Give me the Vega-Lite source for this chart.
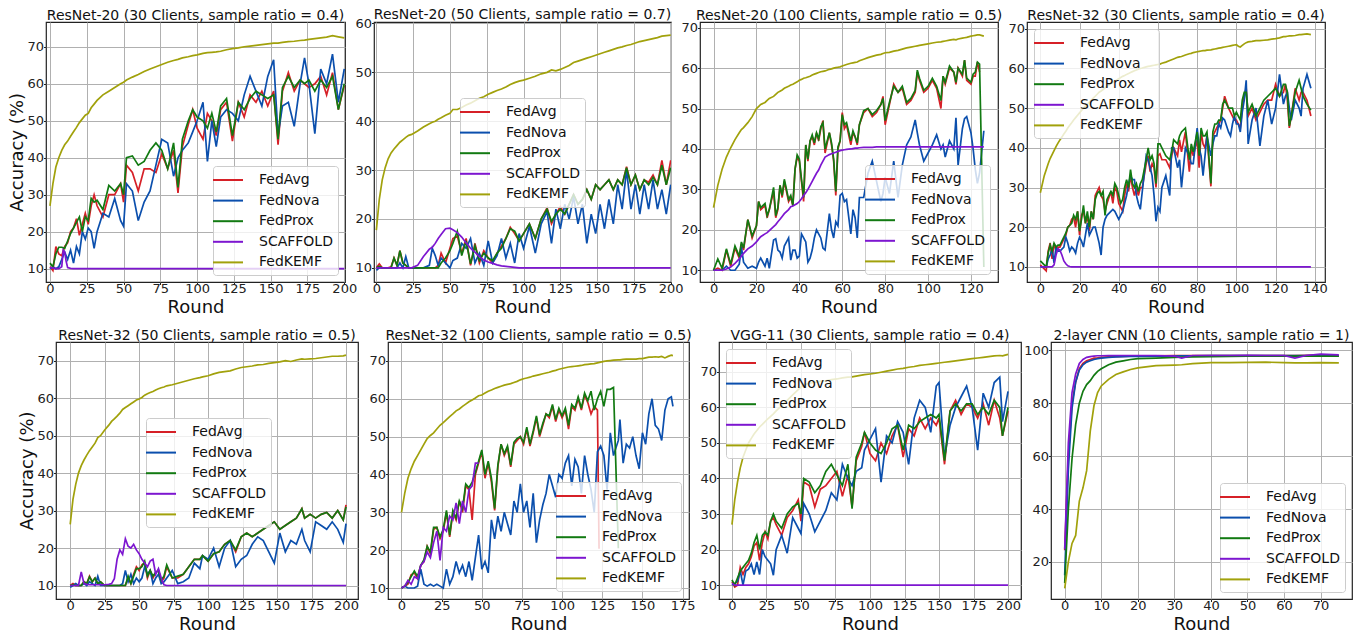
{
"$schema":"https://vega.github.io/schema/vega-lite/v6.json",
"background":"white",
"padding":{"left":8,"top":7,"right":2,"bottom":2},
"config":{
"font":"DejaVu Sans",
"view":{"stroke":"#222222","strokeWidth":1.2},
"mark":{"invalid":"filter"},
"axis":{"labelFontSize":13,"labelFont":"DejaVu Sans","titleFont":"DejaVu Sans","titleFontSize":18,"titleFontWeight":"normal","labelColor":"#222222","titleColor":"#111111","tickColor":"#222222","tickSize":2.5,"domain":false,"grid":true,"gridColor":"#b0b0b0","gridWidth":1,"labelFlush":false,"labelOverlap":false,"labelPadding":0,"titlePadding":0},
"axisX":{"labelPadding":-2,"titlePadding":3},
"axisY":{"titlePadding":0},
"title":{"fontSize":14,"fontWeight":"normal","color":"#111111","offset":-1,"font":"DejaVu Sans"},
"legend":{"labelFontSize":14,"labelColor":"#111111","labelFont":"DejaVu Sans","symbolStrokeWidth":2,"symbolSize":256,"padding":5,"rowPadding":4.6,"strokeColor":"#cccccc","fillColor":"rgba(255,255,255,0.8)","cornerRadius":3,"symbolOffset":1,"labelOffset":22}
},
"datasets":{
"p1":[
{"r":0,"a":10.5,"n":10,"p":11.5,"s":10.3,"k":27},
{"r":2,"a":9.5,"n":10.5,"p":10.5,"s":10.2,"k":33},
{"r":4,"a":16,"n":10,"p":14,"s":10,"k":37.5},
{"r":6,"a":14,"n":10.5,"p":15.8,"s":10,"k":40},
{"r":8,"a":13.5,"n":12.5,"p":15.8,"s":10.5,"k":42},
{"r":9,"s":15},
{"r":10,"a":16,"n":14.5,"p":15.5,"s":14.5,"k":43.5},
{"r":11,"s":12},
{"r":12,"a":17,"n":12.5,"p":17.5,"s":10.3,"k":44.5},
{"r":14,"a":20,"n":15,"p":19.5,"s":10.1,"k":45.8},
{"r":16,"a":21,"n":11.5,"p":21,"s":10,"k":47},
{"r":18,"a":23.5,"n":16,"p":22.5,"s":10,"k":48.2},
{"r":20,"a":19,"n":14,"p":24,"s":10,"k":49.5},
{"r":22,"a":22,"n":20,"p":20,"s":10,"k":50.5},
{"r":24,"a":25,"n":18,"p":24,"s":10,"k":51.5},
{"r":26,"a":22,"n":21,"p":23,"s":10,"k":52},
{"r":28,"a":27,"n":20,"p":29,"s":10,"k":53.5},
{"r":30,"a":30,"n":15.5,"p":28,"s":10,"k":54.5},
{"r":32,"a":27,"n":20,"p":28.5,"s":10,"k":55.5},
{"r":36,"a":24,"n":25,"p":26,"s":10,"k":57},
{"r":40,"a":30,"n":24,"p":32.5,"s":10,"k":58},
{"r":44,"a":30,"n":29,"p":31,"s":10,"k":59},
{"r":48,"a":33,"n":23,"p":33,"s":10,"k":60},
{"r":50,"a":28,"n":21.5,"p":30,"s":10,"k":60.4},
{"r":52,"a":38,"n":33,"p":40,"s":10,"k":61},
{"r":56,"a":36,"n":31,"p":40.5,"s":10,"k":61.8},
{"r":60,"a":31,"n":23,"p":38,"s":10,"k":62.5},
{"r":64,"a":37,"n":28,"p":39,"s":10,"k":63.3},
{"r":68,"a":37,"n":31,"p":42,"s":10,"k":64},
{"r":72,"a":36,"n":38,"p":44,"s":10,"k":64.6},
{"r":76,"a":41,"n":45,"p":42,"s":10,"k":65.2},
{"r":80,"a":37,"n":44,"p":37,"s":10,"k":65.8},
{"r":84,"a":42,"n":35,"p":44,"s":10,"k":66.3},
{"r":87,"a":30.5,"n":40,"p":32,"s":10,"k":66.6},
{"r":90,"a":43,"n":42,"p":45,"s":10,"k":67},
{"r":94,"a":49,"n":44,"p":50,"s":10,"k":67.3},
{"r":97,"a":53,"n":47,"p":53,"s":10,"k":67.6},
{"r":100,"a":48,"n":50,"p":51,"s":10,"k":67.8},
{"r":104,"a":45,"n":55,"p":50,"s":10,"k":68.2},
{"r":107,"a":52,"n":39,"p":48,"s":10,"k":68.4},
{"r":110,"a":50,"n":50,"p":52,"s":10,"k":68.5},
{"r":113,"a":46,"n":43,"p":47,"s":10,"k":68.6},
{"r":116,"a":53,"n":51,"p":54,"s":10,"k":68.8},
{"r":120,"a":55,"n":53,"p":56,"s":10,"k":69.2},
{"r":124,"a":44.5,"n":52,"p":46,"s":10,"k":69.5},
{"r":128,"a":55,"n":50,"p":55,"s":10,"k":69.7},
{"r":132,"a":51,"n":57,"p":53,"s":10,"k":70},
{"r":136,"a":57,"n":62,"p":56,"s":10,"k":70.2},
{"r":140,"a":55,"n":58,"p":58,"s":10,"k":70.4},
{"r":144,"a":58,"n":54,"p":57,"s":10,"k":70.6},
{"r":148,"a":54,"n":62,"p":56,"s":10,"k":70.8},
{"r":152,"a":58,"n":66.5,"p":57,"s":10,"k":71},
{"r":155,"a":43.5,"n":46,"p":45,"s":10,"k":71},
{"r":158,"a":58,"n":54,"p":59,"s":10,"k":71.2},
{"r":162,"a":63,"n":55,"p":62,"s":10,"k":71.4},
{"r":166,"a":58,"n":48.5,"p":59,"s":10,"k":71.5},
{"r":170,"a":61,"n":60,"p":61,"s":10,"k":71.7},
{"r":173,"a":60,"n":67,"p":60,"s":10,"k":71.8},
{"r":176,"a":59,"n":60,"p":61,"s":10,"k":72},
{"r":180,"a":60,"n":46.5,"p":58,"s":10,"k":72.2},
{"r":184,"a":62,"n":64,"p":61,"s":10,"k":72.4},
{"r":188,"a":57,"n":60,"p":59,"s":10,"k":72.6},
{"r":192,"a":63,"n":68,"p":62,"s":10,"k":73},
{"r":196,"a":53,"n":55,"p":53,"s":10,"k":72.7},
{"r":200,"a":59.5,"n":64,"p":60,"s":10,"k":72.4}
],
"p2":[
{"r":0,"a":10,"n":9.5,"p":10,"s":10,"k":17.7},
{"r":2,"a":10.8,"n":10,"p":10.3,"s":10,"k":24},
{"r":4,"a":10,"n":10,"p":10,"s":10,"k":28},
{"r":6,"a":10,"n":10,"p":10,"s":10,"k":30.5},
{"r":8,"a":10,"n":10,"p":10,"s":10,"k":32.3},
{"r":10,"a":10.2,"n":10,"p":10,"s":10,"k":33.5},
{"r":12,"a":12,"n":10,"p":12,"s":10,"k":34.3},
{"r":14,"a":10.5,"n":10,"p":10.5,"s":10,"k":35},
{"r":16,"a":13.5,"n":11,"p":13.5,"s":10,"k":35.7},
{"r":18,"a":11,"n":10,"p":11,"s":10,"k":36.2},
{"r":20,"a":10.5,"n":12.3,"p":10.5,"s":10,"k":36.7},
{"r":22,"a":10,"n":10,"p":10,"s":10,"k":37.1},
{"r":24,"a":10,"n":10,"p":10,"s":10,"k":37.3},
{"r":28,"a":10,"n":10,"p":10,"s":10.5,"k":38},
{"r":32,"a":10,"n":10,"p":10,"s":12.3,"k":38.8},
{"r":36,"a":10,"n":10.5,"p":10,"s":13.8,"k":39.5},
{"r":38,"a":10,"n":14,"p":10,"s":14.2,"k":39.8},
{"r":40,"a":10,"n":12.5,"p":10,"s":15,"k":40},
{"r":42,"a":10.5,"n":10.5,"p":10,"s":16,"k":40.4},
{"r":44,"a":13,"n":12,"p":11,"s":16.8,"k":40.7},
{"r":47,"a":11,"n":11,"p":12,"s":18,"k":41.2},
{"r":50,"a":14,"n":10,"p":13.5,"s":18.1,"k":41.6},
{"r":52,"a":16,"n":11.5,"p":15,"s":17.8,"k":42.4},
{"r":55,"a":16.5,"n":12,"p":17.5,"s":17.2,"k":42.4},
{"r":58,"a":13,"n":15,"p":12.5,"s":16.3,"k":42.8},
{"r":61,"a":16,"n":14,"p":15.5,"s":15.1,"k":43.3},
{"r":64,"a":10.5,"n":16,"p":10.8,"s":14,"k":43.7},
{"r":67,"a":15,"n":11,"p":14.5,"s":13.2,"k":44.2},
{"r":70,"a":11,"n":13,"p":11.5,"s":12.3,"k":44.7},
{"r":73,"a":13.5,"n":10.5,"p":13,"s":11.6,"k":45},
{"r":76,"a":12,"n":15.5,"p":12,"s":11.2,"k":45.5},
{"r":79,"a":11,"n":11,"p":11.5,"s":10.9,"k":45.9},
{"r":82,"a":13,"n":12.5,"p":13,"s":10.6,"k":46.3},
{"r":85,"a":14.5,"n":16,"p":14,"s":10.4,"k":46.6},
{"r":88,"a":16,"n":12,"p":16,"s":10.3,"k":47},
{"r":91,"a":18.3,"n":15,"p":18,"s":10.2,"k":47.5},
{"r":94,"a":17,"n":11,"p":17.5,"s":10.1,"k":47.9},
{"r":97,"a":15.5,"n":17,"p":15.5,"s":10,"k":48.2},
{"r":100,"a":17,"n":14,"p":17,"s":10,"k":48.4},
{"r":104,"a":19,"n":18.5,"p":19,"s":10,"k":48.8},
{"r":108,"a":16,"n":13,"p":16,"s":10,"k":49.2},
{"r":112,"a":20,"n":19,"p":20,"s":10,"k":49.7},
{"r":116,"a":22.3,"n":21.5,"p":22,"s":10,"k":50},
{"r":119,"a":19,"n":15,"p":19.5,"s":10,"k":50.5},
{"r":122,"a":21,"n":22,"p":21,"s":10,"k":50.3},
{"r":125,"a":22.5,"n":18,"p":22,"s":10,"k":50.6},
{"r":128,"a":21,"n":23,"p":21,"s":10,"k":51},
{"r":131,"a":23,"n":20,"p":23,"s":10,"k":51.4},
{"r":134,"a":25,"n":24.5,"p":25,"s":10,"k":52},
{"r":137,"a":23,"n":19,"p":23,"s":10,"k":52.3},
{"r":140,"a":24,"n":23,"p":24,"s":10,"k":52.6},
{"r":143,"a":26,"n":15,"p":26,"s":10,"k":52.9},
{"r":146,"a":24,"n":21,"p":24,"s":10,"k":53.2},
{"r":149,"a":27,"n":17,"p":27,"s":10,"k":53.5},
{"r":152,"a":26,"n":23,"p":26,"s":10,"k":53.8},
{"r":155,"a":27,"n":18,"p":27,"s":10,"k":54.1},
{"r":158,"a":28,"n":24,"p":28,"s":10,"k":54.4},
{"r":161,"a":26,"n":19,"p":26,"s":10,"k":54.7},
{"r":164,"a":28,"n":27,"p":28,"s":10,"k":55},
{"r":167,"a":27,"n":22,"p":27,"s":10,"k":55.2},
{"r":170,"a":30.7,"n":30,"p":30.5,"s":10,"k":55.5},
{"r":173,"a":27,"n":22,"p":27,"s":10,"k":55.7},
{"r":176,"a":29,"n":27,"p":29,"s":10,"k":56},
{"r":179,"a":26,"n":21,"p":26,"s":10,"k":56.3},
{"r":182,"a":28,"n":27,"p":28,"s":10,"k":56.5},
{"r":185,"a":27.5,"n":22,"p":27,"s":10,"k":56.7},
{"r":188,"a":29,"n":28,"p":28.5,"s":10,"k":56.9},
{"r":191,"a":27,"n":22,"p":27,"s":10,"k":57.1},
{"r":194,"a":32,"n":26,"p":31,"s":10,"k":57.4},
{"r":197,"a":27,"n":21,"p":27,"s":10,"k":57.5},
{"r":200,"a":32,"n":27,"p":30.5,"s":10,"k":57.6}
],
"p3":[
{"r":0,"a":10,"p":10,"n":10,"s":10,"k":25.5},
{"r":2,"a":10.5,"p":12.8,"n":10,"s":10,"k":31},
{"r":4,"a":10,"p":10.5,"n":10,"s":10,"k":35},
{"r":6,"a":15,"p":15.3,"n":11,"s":10.3,"k":38},
{"r":8,"a":11,"p":11.5,"n":10,"s":10.8,"k":40.3},
{"r":10,"a":15.5,"p":16,"n":10,"s":11.7,"k":42.3},
{"r":12,"a":13,"p":13.5,"n":11.5,"s":12.8,"k":44},
{"r":13,"a":16.5,"p":17,"n":15.8,"s":13.5,"k":44.8},
{"r":14,"a":15,"p":15.5,"n":12,"s":14.2,"k":45.3},
{"r":16,"a":22.5,"p":22.5,"n":10.5,"s":15.3,"k":46.5},
{"r":18,"a":18,"p":18.5,"n":11,"s":16,"k":48},
{"r":20,"a":21,"p":21,"n":10.5,"s":17,"k":50},
{"r":21,"a":27,"p":27,"n":12,"s":17.7,"k":50.5},
{"r":22,"a":25,"p":25.5,"n":13,"s":18.3,"k":51},
{"r":24,"a":26,"p":26.5,"n":11,"s":19,"k":51.5},
{"r":25,"a":23,"p":23.5,"n":13,"s":19.3,"k":52},
{"r":26,"a":25,"p":25,"n":10.5,"s":19.8,"k":52.5},
{"r":28,"a":29.5,"p":30.5,"n":17.5,"s":20.8,"k":53},
{"r":29,"a":23,"p":23.5,"n":17.8,"s":21.3,"k":53.5},
{"r":30,"a":25,"p":25.5,"n":15,"s":22,"k":54},
{"r":31,"a":31,"p":31,"n":14.5,"s":22.6,"k":54.3},
{"r":32,"a":28,"p":28.5,"n":13,"s":23.3,"k":54.6},
{"r":33,"a":32,"p":32.5,"n":16,"s":24,"k":55},
{"r":35,"a":27,"p":27.5,"n":18,"s":25,"k":55.5},
{"r":36,"a":28,"p":28.5,"n":12.5,"s":25.7,"k":55.8},
{"r":37,"a":26,"p":26,"n":15,"s":25.9,"k":56},
{"r":38,"a":35,"p":35,"n":15,"s":26.2,"k":56.3},
{"r":39,"a":38,"p":38.5,"n":13,"s":26.5,"k":56.6},
{"r":40,"a":37,"p":37.5,"n":13.5,"s":27,"k":57},
{"r":41,"a":32,"p":32.5,"n":19,"s":27.7,"k":57.2},
{"r":42,"a":27,"p":28,"n":18,"s":28.5,"k":57.5},
{"r":43,"a":41,"p":41,"n":17,"s":29.2,"k":57.6},
{"r":44,"a":37,"p":37.5,"n":12,"s":30,"k":57.8},
{"r":45,"a":42,"p":42,"n":13,"s":31,"k":58},
{"r":46,"a":43,"p":43.5,"n":15,"s":32,"k":58.3},
{"r":47,"a":41,"p":41.5,"n":18,"s":33,"k":58.5},
{"r":48,"a":44,"p":44,"n":20,"s":34,"k":58.7},
{"r":49,"a":42,"p":42.5,"n":19,"s":34.8,"k":58.9},
{"r":50,"a":45,"p":45.5,"n":18,"s":36,"k":59.1},
{"r":51,"a":47,"p":46.5,"n":15.5,"s":37,"k":59.2},
{"r":52,"a":39,"p":40,"n":15,"s":38,"k":59.3},
{"r":54,"a":44,"p":44,"n":24,"s":38.6,"k":59.7},
{"r":55,"a":41,"p":41.5,"n":20,"s":38.8,"k":59.8},
{"r":56,"a":37,"p":37.5,"n":18,"s":39,"k":60},
{"r":57,"a":28.5,"p":29.5,"n":22,"s":39.2,"k":60.1},
{"r":58,"a":40,"p":40.5,"n":21,"s":39.4,"k":60.2},
{"r":59,"a":42,"p":42,"n":28.5,"s":39.6,"k":60.3},
{"r":60,"a":49,"p":48.5,"n":29,"s":39.7,"k":60.5},
{"r":61,"a":45,"p":46,"n":27,"s":39.8,"k":60.7},
{"r":62,"a":46,"p":46.5,"n":27.5,"s":39.9,"k":60.9},
{"r":64,"a":41,"p":42,"n":19,"s":40,"k":61.2},
{"r":65,"a":44,"p":44.5,"n":25,"s":40.1,"k":61.3},
{"r":66,"a":43,"p":43,"n":23,"s":40.2,"k":61.4},
{"r":67,"a":41,"p":41.5,"n":18,"s":40.2,"k":61.5},
{"r":68,"a":46,"p":46,"n":28,"s":40.3,"k":61.8},
{"r":70,"a":49,"p":49.5,"n":28,"s":40.4,"k":62.2},
{"r":72,"a":50,"p":50,"n":34,"s":40.4,"k":62.6},
{"r":74,"a":48,"p":48.5,"n":37,"s":40.4,"k":62.9},
{"r":76,"a":49,"p":49.5,"n":32,"s":40.5,"k":63.2},
{"r":78,"a":51,"p":51,"n":27,"s":40.5,"k":63.4},
{"r":79,"a":53,"p":52.5,"n":29,"s":40.5,"k":63.6},
{"r":80,"a":46,"p":47,"n":33,"s":40.5,"k":63.8},
{"r":82,"a":51,"p":51.5,"n":29,"s":40.5,"k":63.9},
{"r":84,"a":56,"p":55.5,"n":37,"s":40.5,"k":64.2},
{"r":86,"a":54,"p":54,"n":28,"s":40.5,"k":64.4},
{"r":88,"a":55,"p":55.5,"n":36,"s":40.5,"k":64.7},
{"r":90,"a":51,"p":51.5,"n":41,"s":40.5,"k":65},
{"r":92,"a":52,"p":52.5,"n":43,"s":40.5,"k":65.2},
{"r":94,"a":54,"p":54.5,"n":47.2,"s":40.5,"k":65.4},
{"r":95,"a":59,"p":59.5,"n":44,"s":40.5,"k":65.5},
{"r":96,"a":57,"p":57.5,"n":41,"s":40.5,"k":65.6},
{"r":98,"a":54,"p":54.5,"n":37,"s":40.5,"k":65.8},
{"r":100,"a":55,"p":55.5,"n":39,"s":40.5,"k":66},
{"r":102,"a":57,"p":57.5,"n":41,"s":40.5,"k":66.2},
{"r":104,"a":55,"p":55.5,"n":43.5,"s":40.5,"k":66.4},
{"r":106,"a":50,"p":52,"n":40,"s":40.5,"k":66.5},
{"r":107,"a":58,"p":58,"n":41,"s":40.5,"k":66.6},
{"r":108,"a":56,"p":56.5,"n":38,"s":40.5,"k":66.7},
{"r":110,"a":60,"p":60.5,"n":42,"s":40.5,"k":66.9},
{"r":112,"a":59,"p":59,"n":40,"s":40.5,"k":67.1},
{"r":113,"a":56,"p":56.5,"n":47.7,"s":40.5,"k":67},
{"r":114,"a":60,"p":60,"n":36,"s":40.5,"k":67.2},
{"r":116,"a":58,"p":58.5,"n":45,"s":40.5,"k":67.4},
{"r":117,"a":62,"p":62,"n":47.5,"s":40.5,"k":67.5},
{"r":118,"a":57,"p":57.5,"n":48,"s":40.5,"k":67.6},
{"r":120,"a":56,"p":56.5,"n":44,"s":40.5,"k":67.9},
{"r":121,"a":58,"p":58.5,"n":40,"s":40.5,"k":68},
{"r":122,"a":58,"p":59,"n":35,"s":40.5,"k":68.1},
{"r":123,"a":61.5,"p":61.5,"n":31.5,"s":40.5,"k":68.2},
{"r":124,"a":59,"p":61,"n":34,"s":40.5,"k":68.2},
{"r":126,"p":10.8,"n":44.5,"s":40.5,"k":67.9}
],
"p4":[
{"r":0,"a":10.5,"p":11.5,"n":10,"s":10,"k":28.7},
{"r":2,"a":9.5,"p":10.5,"n":10,"s":10,"k":33},
{"r":3,"a":9,"p":10,"n":10,"s":10,"k":34.5},
{"r":4,"a":14,"p":13.5,"n":12,"s":10,"k":36},
{"r":5,"a":16,"p":15.5,"n":13,"s":10,"k":37.3},
{"r":6,"a":12,"p":14,"n":14.5,"s":10,"k":38.3},
{"r":7,"a":16,"p":16,"n":11,"s":10.5,"k":39.3},
{"r":8,"a":14,"p":15,"n":15,"s":13,"k":40.3},
{"r":9,"a":15,"p":15.5,"n":14,"s":14.6,"k":41.2},
{"r":10,"a":15,"p":15.5,"n":14,"s":14.2,"k":42},
{"r":11,"a":16,"p":16.5,"n":14.5,"s":13,"k":42.7},
{"r":12,"a":17,"p":17.5,"n":15,"s":11.5,"k":43.5},
{"r":13,"a":18,"p":18.5,"n":17.5,"s":10.8,"k":44.2},
{"r":14,"a":20,"p":20,"n":16,"s":10.3,"k":45},
{"r":15,"a":20.5,"p":20.5,"n":14,"s":10.1,"k":45.7},
{"r":16,"a":22,"p":21,"n":15,"s":10,"k":46.3},
{"r":17,"a":22.5,"p":23,"n":14.5,"s":10,"k":47},
{"r":18,"a":20,"p":22,"n":13.5,"s":10,"k":47.6},
{"r":19,"a":24,"p":24,"n":16,"s":10,"k":48.2},
{"r":20,"a":18,"p":19,"n":17.5,"s":10,"k":48.8},
{"r":21,"a":23,"p":22,"n":16.5,"s":10,"k":49.4},
{"r":22,"a":24,"p":25.5,"n":15,"s":10,"k":50},
{"r":23,"a":21,"p":21,"n":18,"s":10,"k":50.5},
{"r":24,"a":23,"p":24,"n":21,"s":10,"k":51},
{"r":25,"a":19,"p":20,"n":18,"s":10,"k":51.5},
{"r":26,"a":24,"p":24,"n":19,"s":10,"k":52},
{"r":27,"a":22,"p":22,"n":20,"s":10,"k":52.5},
{"r":28,"a":28,"p":27,"n":20,"s":10,"k":53},
{"r":29,"a":29,"p":28.5,"n":18,"s":10,"k":53.5},
{"r":30,"a":30,"p":29,"n":16,"s":10,"k":54},
{"r":31,"a":28,"p":28,"n":13,"s":10,"k":54.3},
{"r":32,"a":27,"p":29,"n":20,"s":10,"k":54.7},
{"r":33,"a":24,"p":23,"n":22,"s":10,"k":55.1},
{"r":34,"a":26,"p":27,"n":23,"s":10,"k":55.5},
{"r":36,"a":29,"p":29,"n":24,"s":10,"k":56.2},
{"r":37,"a":26,"p":28,"n":24.5,"s":10,"k":56.5},
{"r":38,"a":30,"p":31,"n":24,"s":10,"k":56.8},
{"r":39,"a":29,"p":30,"n":23,"s":10,"k":57.1},
{"r":40,"a":26,"p":28,"n":22,"s":10,"k":57.4},
{"r":41,"a":25,"p":26,"n":23,"s":10,"k":57.7},
{"r":42,"a":24,"p":27,"n":24,"s":10,"k":58},
{"r":43,"a":28,"p":30,"n":26,"s":10,"k":58.2},
{"r":44,"a":31,"p":32,"n":28,"s":10,"k":58.5},
{"r":45,"a":29,"p":30,"n":31,"s":10,"k":58.7},
{"r":46,"a":33,"p":34.5,"n":33,"s":10,"k":59},
{"r":47,"a":30,"p":31,"n":32,"s":10,"k":59.2},
{"r":48,"a":28,"p":30,"n":32,"s":10,"k":59.4},
{"r":49,"a":30,"p":31,"n":28,"s":10,"k":59.6},
{"r":50,"a":28,"p":29,"n":26,"s":10,"k":59.8},
{"r":51,"a":30,"p":31,"n":24.5,"s":10,"k":60},
{"r":52,"a":30,"p":32,"n":29,"s":10,"k":60.1},
{"r":54,"a":36,"p":37,"n":38,"s":10,"k":60.4},
{"r":55,"a":38,"p":40,"n":37,"s":10,"k":60.5},
{"r":56,"a":34,"p":37,"n":35,"s":10,"k":60.6},
{"r":57,"a":36,"p":38,"n":33,"s":10,"k":60.7},
{"r":58,"a":35,"p":36,"n":28,"s":10,"k":60.8},
{"r":59,"a":30,"p":31,"n":21.5,"s":10,"k":60.9},
{"r":60,"a":38,"p":41,"n":25,"s":10,"k":61},
{"r":61,"a":38.5,"p":41,"n":24,"s":10,"k":61.1},
{"r":62,"a":37,"p":40,"n":30,"s":10,"k":61.3},
{"r":64,"a":37,"p":38,"n":33,"s":10,"k":61.6},
{"r":66,"a":35,"p":37,"n":28,"s":10,"k":62},
{"r":67,"a":38,"p":39,"n":40,"s":10,"k":62.2},
{"r":68,"a":40,"p":42,"n":40,"s":10,"k":62.4},
{"r":70,"a":38,"p":41,"n":35,"s":10,"k":62.8},
{"r":71,"a":42,"p":43,"n":37,"s":10,"k":62.9},
{"r":72,"a":39,"p":44,"n":30,"s":10,"k":63},
{"r":74,"a":44,"p":45,"n":40,"s":10,"k":63.4},
{"r":76,"a":34,"p":37,"n":38,"s":10,"k":63.7},
{"r":77,"a":40,"p":41,"n":36,"s":10,"k":63.8},
{"r":78,"a":38,"p":39,"n":36,"s":10,"k":64},
{"r":80,"a":42,"p":44,"n":45,"s":10,"k":64.2},
{"r":81,"a":35,"p":38,"n":40,"s":10,"k":64.3},
{"r":82,"a":44,"p":45,"n":38,"s":10,"k":64.4},
{"r":83,"a":41,"p":43,"n":33,"s":10,"k":64.5},
{"r":84,"a":40,"p":43,"n":38,"s":10,"k":64.5},
{"r":85,"a":43,"p":44,"n":43,"s":10,"k":64.6},
{"r":87,"a":30.3,"p":31,"n":38,"s":10,"k":64.7},
{"r":88,"a":43,"p":44,"n":41,"s":10,"k":64.8},
{"r":89,"a":44,"p":46,"n":43,"s":10,"k":64.9},
{"r":90,"a":45,"p":46,"n":43,"s":10,"k":65},
{"r":91,"a":46,"p":47,"n":46,"s":10,"k":65.1},
{"r":92,"a":47,"p":47,"n":45,"s":10,"k":65.2},
{"r":93,"a":50,"p":51,"n":47.5,"s":10,"k":65.3},
{"r":94,"a":53,"p":52,"n":47,"s":10,"k":65.4},
{"r":96,"a":50,"p":50,"n":44,"s":10,"k":65.6},
{"r":97,"a":49,"p":50,"n":43,"s":10,"k":65.7},
{"r":98,"a":48,"p":50,"n":46,"s":10,"k":65.8},
{"r":99,"a":47,"p":48,"n":48,"s":10,"k":65.9},
{"r":100,"a":47,"p":49,"n":46,"s":10,"k":66},
{"r":101,"a":46,"p":48,"n":46,"s":10,"k":65.6},
{"r":102,"a":45,"p":47,"n":44,"s":10,"k":65.4},
{"r":103,"a":50,"p":52,"n":49,"s":10,"k":65.8},
{"r":104,"a":53,"p":54,"n":52,"s":10,"k":66.2},
{"r":105,"a":55,"p":54,"n":57,"s":10,"k":66.5},
{"r":106,"a":48,"p":49,"n":41,"s":10,"k":66.7},
{"r":108,"a":50,"p":51,"n":47,"s":10,"k":66.8},
{"r":110,"a":47,"p":48,"n":50,"s":10,"k":67},
{"r":112,"a":49,"p":50,"n":40.5,"s":10,"k":67},
{"r":114,"a":51,"p":52,"n":48,"s":10,"k":67.1},
{"r":116,"a":52,"p":53,"n":52,"s":10,"k":67.2},
{"r":118,"a":52,"p":54,"n":46,"s":10,"k":67.4},
{"r":120,"a":56,"p":55,"n":50,"s":10,"k":67.5},
{"r":122,"a":53,"p":53,"n":58.5,"s":10,"k":67.7},
{"r":124,"a":54,"p":56,"n":51,"s":10,"k":68},
{"r":125,"a":56,"p":56,"n":53,"s":10,"k":68},
{"r":126,"a":52,"p":54,"n":54,"s":10,"k":68.1},
{"r":127,"a":45,"p":45.5,"n":50,"s":10,"k":68.2},
{"r":128,"a":48,"p":48,"n":47,"s":10,"k":68.2},
{"r":130,"a":55,"p":54,"n":52,"s":10,"k":68.3},
{"r":132,"a":52,"p":57,"n":50,"s":10,"k":68.5},
{"r":133,"a":54,"p":55,"n":48,"s":10,"k":68.5},
{"r":134,"a":54,"p":53,"n":55,"s":10,"k":68.6},
{"r":136,"a":52,"p":51,"n":58.5,"s":10,"k":68.7},
{"r":138,"a":48,"p":49.5,"n":55,"s":10,"k":68.5}
],
"p5":[
{"r":0,"a":10,"p":10,"n":9.5,"s":10,"k":26.3},
{"r":2,"a":10.5,"p":10.2,"n":10,"s":10,"k":33},
{"r":4,"a":10,"p":10,"n":10.5,"s":10,"k":37},
{"r":6,"a":10,"p":10,"n":10,"s":10,"k":40},
{"r":8,"a":10,"p":10,"n":10,"s":13.6,"k":42},
{"r":10,"a":11,"p":11,"n":10.5,"s":10.5,"k":43.5},
{"r":12,"a":10.5,"p":10.5,"n":10,"s":10.3,"k":44.8},
{"r":14,"a":12.5,"p":12.3,"n":11,"s":10.2,"k":46},
{"r":16,"a":11,"p":11,"n":10.5,"s":10.2,"k":47},
{"r":18,"a":12,"p":12,"n":10,"s":10.2,"k":48},
{"r":20,"a":10.5,"p":10.5,"n":12.5,"s":10.2,"k":49.5},
{"r":22,"a":11,"p":11,"n":10,"s":10.2,"k":50},
{"r":25,"a":10,"p":10,"n":10,"s":10.2,"k":51.5},
{"r":28,"a":10,"p":10,"n":10,"s":10.3,"k":52.8},
{"r":30,"a":10,"p":10,"n":10,"s":10.5,"k":53.8},
{"r":32,"a":10,"p":10,"n":10,"s":11.8,"k":54.5},
{"r":34,"a":10,"p":10,"n":10,"s":17,"k":55.2},
{"r":36,"a":10,"p":10,"n":10,"s":19.5,"k":56},
{"r":38,"a":10,"p":10,"n":10.5,"s":18.3,"k":57},
{"r":40,"a":10,"p":10,"n":14,"s":22.5,"k":57.5},
{"r":42,"a":12,"p":12.5,"n":11,"s":20.5,"k":58},
{"r":44,"a":10.5,"p":10.5,"n":13,"s":20,"k":58.5},
{"r":46,"a":13,"p":12.5,"n":10.5,"s":21,"k":59},
{"r":48,"a":15,"p":14.5,"n":12,"s":19.5,"k":59.5},
{"r":50,"a":14,"p":14.5,"n":11,"s":18.5,"k":59.8},
{"r":52,"a":15.5,"p":15,"n":12,"s":17,"k":60.2},
{"r":54,"a":16,"p":16.5,"n":15,"s":16,"k":60.8},
{"r":56,"a":12,"p":12.5,"n":13,"s":15,"k":61.2},
{"r":58,"a":14,"p":14,"n":14,"s":16.5,"k":61.5},
{"r":60,"a":12,"p":12.5,"n":10.5,"s":17,"k":61.8},
{"r":62,"a":13.5,"p":13.5,"n":12,"s":13,"k":62.2},
{"r":64,"a":14,"p":14,"n":13,"s":14.5,"k":62.5},
{"r":66,"a":11,"p":11.5,"n":10.5,"s":12,"k":62.8},
{"r":68,"a":12,"p":12.5,"n":11,"s":10.2,"k":63},
{"r":70,"a":15,"p":15.5,"n":12,"s":10,"k":63.3},
{"r":74,"a":12,"p":12,"n":14,"s":10,"k":63.6},
{"r":78,"a":12,"p":12.5,"n":10.5,"s":10,"k":64},
{"r":82,"a":13,"p":13,"n":11,"s":10,"k":64.4},
{"r":86,"a":15,"p":15,"n":12,"s":10,"k":64.8},
{"r":90,"a":17,"p":17,"n":16,"s":10,"k":65.2},
{"r":94,"a":17,"p":17,"n":14.5,"s":10,"k":65.5},
{"r":96,"a":18,"p":18,"n":18,"s":10,"k":65.7},
{"r":100,"a":16.5,"p":16.5,"n":17,"s":10,"k":66},
{"r":104,"a":18.5,"p":18.5,"n":20,"s":10,"k":66.5},
{"r":108,"a":19,"p":19,"n":15,"s":10,"k":66.9},
{"r":112,"a":21,"p":21,"n":20,"s":10,"k":67.1},
{"r":116,"a":22,"p":22,"n":22,"s":10,"k":67.3},
{"r":120,"a":19,"p":19.5,"n":15,"s":10,"k":67.8},
{"r":124,"a":23,"p":23,"n":17,"s":10,"k":68.2},
{"r":128,"a":24,"p":24,"n":18,"s":10,"k":68.4},
{"r":132,"a":23,"p":23,"n":21,"s":10,"k":68.6},
{"r":136,"a":24,"p":24,"n":23,"s":10,"k":68.9},
{"r":140,"a":25,"p":25,"n":22,"s":10,"k":69},
{"r":144,"a":26,"p":26,"n":19,"s":10,"k":69.3},
{"r":148,"a":27,"p":27,"n":16,"s":10,"k":69.5},
{"r":152,"a":25,"p":25,"n":24,"s":10,"k":69.7},
{"r":156,"a":26,"p":26,"n":19,"s":10,"k":70},
{"r":160,"a":27,"p":27,"n":22,"s":10,"k":69.8},
{"r":164,"a":28,"p":28,"n":21,"s":10,"k":70.2},
{"r":168,"a":30.5,"p":30.5,"n":25,"s":10,"k":70.5},
{"r":170,"a":28,"p":28,"n":22,"s":10,"k":70.4},
{"r":174,"a":29,"p":29,"n":19,"s":10,"k":70.5},
{"r":178,"a":28,"p":28,"n":27,"s":10,"k":70.6},
{"r":182,"a":29,"p":29,"n":26,"s":10,"k":70.8},
{"r":186,"a":29.5,"p":29.5,"n":25,"s":10,"k":71},
{"r":190,"a":28,"p":28,"n":27,"s":10,"k":71.2},
{"r":194,"a":30,"p":30,"n":25,"s":10,"k":71.2},
{"r":198,"a":27.5,"p":27.5,"n":21.5,"s":10,"k":71.3},
{"r":200,"a":31.5,"p":31,"n":26.5,"s":10,"k":71.5}
],
"p6":[
{"r":0,"a":10,"p":10,"n":10,"s":10,"k":30},
{"r":2,"a":10.5,"p":10.5,"n":10.5,"s":10.5,"k":35},
{"r":4,"a":11,"p":11.5,"n":10,"s":12,"k":39},
{"r":6,"a":13.5,"p":13,"n":10,"s":11,"k":41.5},
{"r":8,"a":14,"p":14.5,"n":10,"s":13,"k":43.5},
{"r":10,"a":12.5,"p":13,"n":10.5,"s":12.5,"k":45},
{"r":12,"a":16,"p":16,"n":15,"s":16,"k":46.5},
{"r":14,"a":17,"p":17.5,"n":11,"s":17,"k":48},
{"r":16,"a":21,"p":21,"n":10.5,"s":19.5,"k":49.5},
{"r":18,"a":19,"p":19.5,"n":11,"s":18,"k":50.3},
{"r":20,"a":25.5,"p":26,"n":10.5,"s":22,"k":51},
{"r":22,"a":26,"p":26,"n":11,"s":25,"k":52},
{"r":24,"a":23,"p":23.5,"n":10.5,"s":17.3,"k":53},
{"r":26,"a":25,"p":25.5,"n":10,"s":26,"k":53.7},
{"r":28,"a":30,"p":30.5,"n":15,"s":25,"k":54.5},
{"r":30,"a":23.5,"p":24,"n":11,"s":29,"k":55.3},
{"r":32,"a":30,"p":30.5,"n":13,"s":28,"k":56},
{"r":34,"a":28,"p":28.5,"n":17,"s":32.5,"k":56.8},
{"r":36,"a":33,"p":33,"n":14,"s":27,"k":57.3},
{"r":38,"a":30,"p":31,"n":16,"s":33,"k":58},
{"r":40,"a":37,"p":37.5,"n":13,"s":30,"k":58.6},
{"r":42,"a":36,"p":36.5,"n":17,"s":36,"k":59.2},
{"r":44,"a":28,"p":38,"n":12,"s":37,"k":59.7},
{"r":46,"a":40,"p":40.5,"n":18,"s":43,"k":60.2},
{"r":48,"a":43,"p":43.5,"n":24,"s":43,"k":60.8},
{"r":50,"a":46,"p":46.5,"n":15,"k":61},
{"r":52,"a":39,"p":40,"n":17,"k":61.5},
{"r":54,"a":43,"p":43.5,"n":14,"k":62},
{"r":56,"a":38,"p":39,"n":28,"k":62.3},
{"r":58,"a":30.5,"p":31,"n":23,"k":62.7},
{"r":60,"a":42,"p":42.5,"n":29,"k":63},
{"r":62,"a":48,"p":48,"n":25,"k":63.3},
{"r":64,"a":45,"p":45.5,"n":30,"k":63.6},
{"r":66,"a":47,"p":47.5,"n":27,"k":63.8},
{"r":68,"a":42,"p":42.5,"n":24,"k":64},
{"r":70,"a":48,"p":48.5,"n":33,"k":64.3},
{"r":72,"a":49,"p":49.5,"n":30,"k":64.6},
{"r":74,"a":50,"p":50,"n":37.5,"k":65},
{"r":76,"a":48,"p":48.5,"n":30,"k":65.3},
{"r":78,"a":52,"p":52.5,"n":33,"k":65.5},
{"r":80,"a":47.5,"p":48,"n":26,"k":65.7},
{"r":82,"a":51,"p":51.5,"n":35,"k":66},
{"r":84,"a":55,"p":55.5,"n":22,"k":66.2},
{"r":86,"a":50,"p":50.5,"n":28,"k":66.4},
{"r":88,"a":53,"p":53.5,"n":32,"k":66.6},
{"r":90,"a":56,"p":56,"n":35,"k":66.8},
{"r":92,"a":55,"p":55.5,"n":40,"k":67},
{"r":94,"a":58,"p":58.5,"n":37,"k":67.3},
{"r":96,"a":54,"p":54.5,"n":34,"k":67.5},
{"r":98,"a":57,"p":57.5,"n":40,"k":67.8},
{"r":100,"a":55,"p":55.5,"n":39,"k":68},
{"r":102,"a":57,"p":57.5,"n":43,"k":68.2},
{"r":104,"a":52,"p":53,"n":45,"k":68.4},
{"r":106,"a":58,"p":58.5,"n":37,"k":68.5},
{"r":108,"a":57,"p":57.5,"n":44,"k":68.6},
{"r":110,"a":60,"p":60.5,"n":42,"k":68.7},
{"r":112,"a":57,"p":57.5,"n":35,"k":68.8},
{"r":114,"a":61,"p":61.5,"n":45,"k":69},
{"r":116,"a":59,"p":59.5,"n":40,"k":69.1},
{"r":118,"a":56,"p":62,"n":36,"k":69.2},
{"r":120,"a":58,"p":57,"n":30,"k":69.3},
{"r":122,"a":57,"p":60,"n":46,"k":69.5},
{"r":123,"a":20.4},
{"r":124,"p":62,"n":47.5,"k":69.7},
{"r":126,"p":58,"n":45,"k":69.9},
{"r":128,"p":62.5,"n":36,"k":70},
{"r":130,"p":62.5,"n":51,"k":70.1},
{"r":132,"p":63,"n":45,"k":70.2},
{"r":135,"p":20.5,"n":49,"k":70.3},
{"r":136,"n":54.5,"k":70.3},
{"r":138,"n":43,"k":70.4},
{"r":140,"n":48,"k":70.5},
{"r":142,"n":47,"k":70.5},
{"r":144,"n":50,"k":70.5},
{"r":146,"n":45,"k":70.5},
{"r":148,"n":41.5,"k":70.6},
{"r":150,"n":51,"k":70.6},
{"r":152,"n":48,"k":70.8},
{"r":154,"n":56,"k":71},
{"r":156,"n":60,"k":71},
{"r":158,"n":53,"k":71.1},
{"r":160,"n":52,"k":71},
{"r":162,"n":49,"k":71.2},
{"r":164,"n":57,"k":70.8},
{"r":166,"n":60,"k":71.2},
{"r":168,"n":60.5,"k":71.5},
{"r":169,"n":58,"k":71.4}
],
"p7":[
{"r":0,"a":11,"n":10,"p":11.5,"s":10.5,"k":27},
{"r":2,"a":9.5,"n":10.5,"p":10,"s":10,"k":34},
{"r":4,"a":10,"n":11,"p":12,"s":10,"k":39},
{"r":6,"a":15,"n":14,"p":14,"s":10,"k":43},
{"r":8,"a":13,"n":10,"p":15,"s":10,"k":46},
{"r":10,"a":15,"n":14,"p":16,"s":10,"k":48},
{"r":12,"a":16,"n":14.5,"p":17,"s":10,"k":50},
{"r":14,"a":18,"n":16,"p":19,"s":10,"k":51.3},
{"r":16,"a":21,"n":13,"p":22,"s":10,"k":52.5},
{"r":18,"a":22,"n":16.5,"p":24,"s":10,"k":53.5},
{"r":20,"a":17,"n":13,"p":20,"s":10,"k":54.5},
{"r":22,"a":22,"n":20,"p":24,"s":10,"k":55.2},
{"r":24,"a":25,"n":18,"p":25,"s":10,"k":56},
{"r":26,"a":23,"n":17,"p":24,"s":10,"k":56.8},
{"r":28,"a":28,"n":16,"p":28,"s":10,"k":57.5},
{"r":30,"a":29,"n":12.8,"p":30,"s":10,"k":58.2},
{"r":32,"a":27,"n":20,"p":28,"s":10,"k":59},
{"r":36,"a":24,"n":24,"p":26,"s":10,"k":60.5},
{"r":40,"a":29,"n":19,"p":30,"s":10,"k":62},
{"r":44,"a":31,"n":29,"p":32,"s":10,"k":63.5},
{"r":48,"a":34,"n":26,"p":33,"s":10,"k":65},
{"r":50,"a":28,"n":24.5,"p":30,"s":10,"k":65.7},
{"r":52,"a":39,"n":33,"p":40,"s":10,"k":66.3},
{"r":56,"a":38,"n":30,"p":39,"s":10,"k":66.8},
{"r":60,"a":32,"n":25,"p":36,"s":10,"k":67},
{"r":64,"a":37,"n":28,"p":38,"s":10,"k":67.3},
{"r":68,"a":38,"n":31,"p":42,"s":10,"k":67.5},
{"r":72,"a":40,"n":36,"p":44,"s":10,"k":67.8},
{"r":76,"a":42,"n":34,"p":41,"s":10,"k":68},
{"r":80,"a":35,"n":44,"p":38,"s":10,"k":68.3},
{"r":84,"a":41,"n":40,"p":44,"s":10,"k":68.5},
{"r":87,"a":32,"n":38,"p":31.5,"s":10,"k":68.6},
{"r":90,"a":45,"n":42,"p":46,"s":10,"k":68.8},
{"r":94,"a":49,"n":43,"p":50,"s":10,"k":69.1},
{"r":96,"a":53,"n":48,"p":53,"s":10,"k":69.2},
{"r":100,"a":47,"n":51,"p":50,"s":10,"k":69.4},
{"r":104,"a":45,"n":54,"p":48,"s":10,"k":69.6},
{"r":108,"a":50,"n":39,"p":47,"s":10,"k":69.9},
{"r":112,"a":47,"n":52,"p":50,"s":10,"k":70.2},
{"r":116,"a":52,"n":50,"p":54,"s":10,"k":70.5},
{"r":120,"a":55,"n":56,"p":55,"s":10,"k":70.8},
{"r":124,"a":46,"n":53,"p":48,"s":10,"k":71},
{"r":128,"a":54,"n":44,"p":55,"s":10,"k":71.3},
{"r":132,"a":52,"n":57,"p":54,"s":10,"k":71.5},
{"r":136,"a":57,"n":62,"p":56,"s":10,"k":71.8},
{"r":140,"a":54,"n":60,"p":57,"s":10,"k":72},
{"r":144,"a":57,"n":53,"p":58,"s":10,"k":72.2},
{"r":148,"a":55,"n":66,"p":57,"s":10,"k":72.4},
{"r":150,"a":57,"n":67,"p":58,"s":10,"k":72.5},
{"r":154,"a":44,"n":46,"p":45,"s":10,"k":72.7},
{"r":158,"a":59,"n":55,"p":59,"s":10,"k":72.9},
{"r":162,"a":62,"n":60,"p":61,"s":10,"k":73.1},
{"r":166,"a":58,"n":63,"p":59,"s":10,"k":73.3},
{"r":170,"a":61,"n":66,"p":61,"s":10,"k":73.5},
{"r":174,"a":60,"n":60,"p":61,"s":10,"k":73.7},
{"r":178,"a":57,"n":48,"p":58,"s":10,"k":73.9},
{"r":182,"a":61,"n":64,"p":60,"s":10,"k":74.1},
{"r":186,"a":55,"n":60,"p":58,"s":10,"k":74.3},
{"r":190,"a":62,"n":67,"p":62,"s":10,"k":74.5},
{"r":194,"a":57,"n":68.5,"p":60,"s":10,"k":74.6},
{"r":196,"a":52,"n":56,"p":52,"s":10,"k":74.5},
{"r":200,"a":59,"n":64.5,"p":60,"s":10,"k":74.9}
],
"p8":[
{"r":0,"a":24.4,"n":15,"p":12,"s":25,"k":10},
{"r":1,"a":60,"n":55,"p":40,"s":65,"k":20},
{"r":2,"a":80,"n":78,"p":59,"s":84,"k":27},
{"r":3,"a":88,"n":88,"p":72,"s":91,"k":30},
{"r":4,"a":93,"n":92.5,"p":80,"s":95,"k":43},
{"r":5,"a":95,"n":94.5,"p":84.5,"s":96.5,"k":48},
{"r":6,"a":96,"n":95.5,"p":87,"s":97.3,"k":54.5},
{"r":7,"a":96.5,"n":96,"p":88.5,"s":97.6,"k":69.5},
{"r":8,"a":97,"n":96.5,"p":90.5,"s":97.8,"k":79},
{"r":9,"a":97.1,"n":96.8,"p":92,"s":97.9,"k":84},
{"r":10,"a":97.3,"n":97,"p":93,"s":97.9,"k":86.5},
{"r":12,"a":97.5,"n":97.3,"p":94.5,"s":98,"k":89},
{"r":14,"a":97.6,"n":97.5,"p":95.5,"s":98,"k":90.8},
{"r":16,"a":97.7,"n":97.6,"p":96,"s":98,"k":91.8},
{"r":18,"a":97.8,"n":97.7,"p":96.5,"s":98,"k":92.7},
{"r":20,"a":97.8,"n":97.7,"p":96.8,"s":98,"k":93.3},
{"r":25,"a":97.9,"n":97.8,"p":97,"s":98,"k":94.2},
{"r":30,"a":98,"n":97.8,"p":97.3,"s":97.8,"k":94.4},
{"r":32,"a":98,"n":97.9,"p":97.4,"s":97,"k":94.5},
{"r":35,"a":98,"n":97.9,"p":97.5,"s":98,"k":94.9},
{"r":40,"a":98,"n":98,"p":97.6,"s":98,"k":95.3},
{"r":45,"a":98,"n":98,"p":97.7,"s":98,"k":95.3},
{"r":50,"a":98,"n":98,"p":97.8,"s":98.1,"k":95.4},
{"r":55,"a":98,"n":98,"p":97.8,"s":98,"k":95.5},
{"r":60,"a":98,"n":98,"p":97.8,"s":98,"k":95.3},
{"r":63,"a":98,"n":98,"p":97.8,"s":97,"k":95.2},
{"r":66,"a":98.1,"n":98,"p":97.8,"s":98,"k":95.2},
{"r":70,"a":98.2,"n":98,"p":97.8,"s":98.5,"k":95.3},
{"r":75,"a":98,"n":97.8,"p":97.8,"s":98.2,"k":95.2}
]
},
"spacing":10,
"resolve":{"scale":{"color":"independent"}},
"vconcat":[
{"hconcat":[
{"width":299,"height":260,"title":"ResNet-20 (30 Clients, sample ratio = 0.4)","data":{"name":"p1"},"transform":[{"fold":["a","n","p","s","k"],"as":["m","v"]}],"mark":{"type":"line","strokeWidth":1.7,"clip":true,"invalid":"filter"},
"encoding":{"x":{"field":"r","type":"quantitative","scale":{"domain":[-2.7,200.5],"nice":false,"zero":false},"axis":{"values":[0,25,50,75,100,125,150,175,200],"title":"Round"}},
"y":{"field":"v","type":"quantitative","scale":{"domain":[6.4,76.7],"nice":false,"zero":false},"axis":{"values":[10,20,30,40,50,60,70],"title":"Accuracy (%)"}},
"color":{"field":"m","type":"nominal","scale":{"domain":["a","n","p","s","k"],"range":["#d62027","#0b4fad","#127a12","#7d16d0","#a1a10b"]},"legend":{"title":null,"orient":"bottom-right","offset":7,"symbolType":"M-1.875,0H1.875","labelExpr":"datum.label=='a'?'FedAvg':datum.label=='n'?'FedNova':datum.label=='p'?'FedProx':datum.label=='s'?'SCAFFOLD':'FedKEMF'"}}}},
{"width":297,"height":260,"title":{"text":"ResNet-20 (50 Clients, sample ratio = 0.7)","offset":-5},"data":{"name":"p2"},"transform":[{"fold":["a","n","p","s","k"],"as":["m","v"]}],"mark":{"type":"line","strokeWidth":1.7,"clip":true,"invalid":"filter"},
"encoding":{"x":{"field":"r","type":"quantitative","scale":{"domain":[-1.6,200.2],"nice":false,"zero":false},"axis":{"values":[0,25,50,75,100,125,150,175,200],"title":"Round"}},
"y":{"field":"v","type":"quantitative","scale":{"domain":[7.1,60.3],"nice":false,"zero":false},"axis":{"values":[10,20,30,40,50,60],"title":null}},
"color":{"field":"m","type":"nominal","scale":{"domain":["a","n","p","s","k"],"range":["#d62027","#0b4fad","#127a12","#7d16d0","#a1a10b"]},"legend":{"title":null,"orient":"none","legendX":86,"legendY":76,"symbolType":"M-1.875,0H1.875","labelExpr":"datum.label=='a'?'FedAvg':datum.label=='n'?'FedNova':datum.label=='p'?'FedProx':datum.label=='s'?'SCAFFOLD':'FedKEMF'"}}}},
{"width":298,"height":260,"title":"ResNet-20 (100 Clients, sample ratio = 0.5)","data":{"name":"p3"},"transform":[{"fold":["a","n","p","s","k"],"as":["m","v"]}],"mark":{"type":"line","strokeWidth":1.7,"clip":true,"invalid":"filter"},
"encoding":{"x":{"field":"r","type":"quantitative","scale":{"domain":[-6.3,132.6],"nice":false,"zero":false},"axis":{"values":[0,20,40,60,80,100,120],"title":"Round"}},
"y":{"field":"v","type":"quantitative","scale":{"domain":[7.1,71.4],"nice":false,"zero":false},"axis":{"values":[10,20,30,40,50,60,70],"title":null}},
"color":{"field":"m","type":"nominal","scale":{"domain":["a","n","p","s","k"],"range":["#d62027","#0b4fad","#127a12","#7d16d0","#a1a10b"]},"legend":{"title":null,"orient":"bottom-right","offset":8,"symbolType":"M-1.875,0H1.875","labelExpr":"datum.label=='a'?'FedAvg':datum.label=='n'?'FedNova':datum.label=='p'?'FedProx':datum.label=='s'?'SCAFFOLD':'FedKEMF'"}}}},
{"width":298,"height":260,"title":"ResNet-32 (30 Clients, sample ratio = 0.4)","data":{"name":"p4"},"transform":[{"fold":["a","n","p","s","k"],"as":["m","v"]}],"mark":{"type":"line","strokeWidth":1.7,"clip":true,"invalid":"filter"},
"encoding":{"x":{"field":"r","type":"quantitative","scale":{"domain":[-6.8,145.2],"nice":false,"zero":false},"axis":{"values":[0,20,40,60,80,100,120,140],"title":"Round"}},
"y":{"field":"v","type":"quantitative","scale":{"domain":[6.2,71.7],"nice":false,"zero":false},"axis":{"values":[10,20,30,40,50,60,70],"title":null}},
"color":{"field":"m","type":"nominal","scale":{"domain":["a","n","p","s","k"],"range":["#d62027","#0b4fad","#127a12","#7d16d0","#a1a10b"]},"legend":{"title":null,"orient":"top-left","offset":7,"symbolType":"M-1.875,0H1.875","labelExpr":"datum.label=='a'?'FedAvg':datum.label=='n'?'FedNova':datum.label=='p'?'FedProx':datum.label=='s'?'SCAFFOLD':'FedKEMF'"}}}}
],"spacing":29,"bounds":"flush","resolve":{"scale":{"color":"independent"}}},
{"hconcat":[
{"width":1,"height":1,"data":{"values":[]},"mark":"point","encoding":{},"view":{"stroke":null}},
{"hconcat":[
{"width":302,"height":257,"title":"ResNet-32 (50 Clients, sample ratio = 0.5)","data":{"name":"p5"},"transform":[{"fold":["a","n","p","s","k"],"as":["m","v"]}],"mark":{"type":"line","strokeWidth":1.7,"clip":true,"invalid":"filter"},
"encoding":{"x":{"field":"r","type":"quantitative","scale":{"domain":[-10.3,208.7],"nice":false,"zero":false},"axis":{"values":[0,25,50,75,100,125,150,175,200],"title":"Round"}},
"y":{"field":"v","type":"quantitative","scale":{"domain":[6.4,75],"nice":false,"zero":false},"axis":{"values":[10,20,30,40,50,60,70],"title":"Accuracy (%)"}},
"color":{"field":"m","type":"nominal","scale":{"domain":["a","n","p","s","k"],"range":["#d62027","#0b4fad","#127a12","#7d16d0","#a1a10b"]},"legend":{"title":null,"orient":"none","legendX":90,"legendY":76,"symbolType":"M-1.875,0H1.875","labelExpr":"datum.label=='a'?'FedAvg':datum.label=='n'?'FedNova':datum.label=='p'?'FedProx':datum.label=='s'?'SCAFFOLD':'FedKEMF'"}}}},
{"width":301,"height":257,"title":"ResNet-32 (100 Clients, sample ratio = 0.5)","data":{"name":"p6"},"transform":[{"fold":["a","n","p","s","k"],"as":["m","v"]}],"mark":{"type":"line","strokeWidth":1.7,"clip":true,"invalid":"filter"},
"encoding":{"x":{"field":"r","type":"quantitative","scale":{"domain":[-8.4,179],"nice":false,"zero":false},"axis":{"values":[0,25,50,75,100,125,150,175],"title":"Round"}},
"y":{"field":"v","type":"quantitative","scale":{"domain":[7.1,75],"nice":false,"zero":false},"axis":{"values":[10,20,30,40,50,60,70],"title":null}},
"color":{"field":"m","type":"nominal","scale":{"domain":["a","n","p","s","k"],"range":["#d62027","#0b4fad","#127a12","#7d16d0","#a1a10b"]},"legend":{"title":null,"orient":"bottom-right","offset":8,"symbolType":"M-1.875,0H1.875","labelExpr":"datum.label=='a'?'FedAvg':datum.label=='n'?'FedNova':datum.label=='p'?'FedProx':datum.label=='s'?'SCAFFOLD':'FedKEMF'"}}}},
{"width":302,"height":257,"title":"VGG-11 (30 Clients, sample ratio = 0.4)","data":{"name":"p7"},"transform":[{"fold":["a","n","p","s","k"],"as":["m","v"]}],"mark":{"type":"line","strokeWidth":1.7,"clip":true,"invalid":"filter"},
"encoding":{"x":{"field":"r","type":"quantitative","scale":{"domain":[-9.4,209.4],"nice":false,"zero":false},"axis":{"values":[0,25,50,75,100,125,150,175,200],"title":"Round"}},
"y":{"field":"v","type":"quantitative","scale":{"domain":[6.1,78.4],"nice":false,"zero":false},"axis":{"values":[10,20,30,40,50,60,70],"title":null}},
"color":{"field":"m","type":"nominal","scale":{"domain":["a","n","p","s","k"],"range":["#d62027","#0b4fad","#127a12","#7d16d0","#a1a10b"]},"legend":{"title":null,"orient":"top-left","offset":7,"symbolType":"M-1.875,0H1.875","labelExpr":"datum.label=='a'?'FedAvg':datum.label=='n'?'FedNova':datum.label=='p'?'FedProx':datum.label=='s'?'SCAFFOLD':'FedKEMF'"}}}},
{"width":301,"height":257,"title":"2-layer CNN (10 Clients, sample ratio = 1)","data":{"name":"p8"},"transform":[{"fold":["a","n","p","s","k"],"as":["m","v"]}],"mark":{"type":"line","strokeWidth":1.7,"clip":true,"invalid":"filter"},
"encoding":{"x":{"field":"r","type":"quantitative","scale":{"domain":[-3.75,78.6],"nice":false,"zero":false},"axis":{"values":[0,10,20,30,40,50,60,70],"title":"Round"}},
"y":{"field":"v","type":"quantitative","scale":{"domain":[6,103.1],"nice":false,"zero":false},"axis":{"values":[20,40,60,80,100],"title":null}},
"color":{"field":"m","type":"nominal","scale":{"domain":["a","n","p","s","k"],"range":["#d62027","#0b4fad","#127a12","#7d16d0","#a1a10b"]},"legend":{"title":null,"orient":"bottom-right","offset":7,"symbolType":"M-1.875,0H1.875","labelExpr":"datum.label=='a'?'FedAvg':datum.label=='n'?'FedNova':datum.label=='p'?'FedProx':datum.label=='s'?'SCAFFOLD':'FedKEMF'"}}}}
],"spacing":30,"bounds":"flush","resolve":{"scale":{"color":"independent"}}}
],"spacing":9,"bounds":"flush","resolve":{"scale":{"color":"independent"}}}
]
}
